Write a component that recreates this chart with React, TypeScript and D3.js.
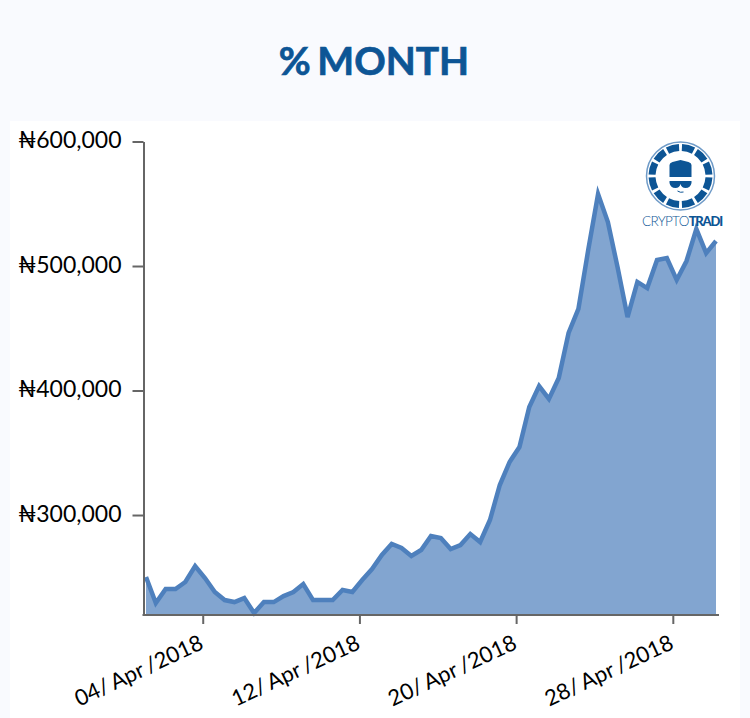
import * as d3 from 'd3';
import { useEffect, useRef } from 'react';

const dates = [
    '2018-04-01T02:30', '2018-04-01T14:32', '2018-04-02T02:35', '2018-04-02T14:37', '2018-04-03T02:40',
    '2018-04-03T14:42', '2018-04-04T02:45', '2018-04-04T14:47', '2018-04-05T02:50', '2018-04-05T14:52',
    '2018-04-06T02:55', '2018-04-06T14:57', '2018-04-07T03:00', '2018-04-07T15:02', '2018-04-08T03:05',
    '2018-04-08T15:07', '2018-04-09T03:10', '2018-04-09T15:12', '2018-04-10T03:15', '2018-04-10T15:17',
    '2018-04-11T03:20', '2018-04-11T15:22', '2018-04-12T03:25', '2018-04-12T15:27', '2018-04-13T03:30',
    '2018-04-13T15:32', '2018-04-14T03:35', '2018-04-14T15:37', '2018-04-15T03:40', '2018-04-15T15:42',
    '2018-04-16T03:45', '2018-04-16T15:47', '2018-04-17T03:50', '2018-04-17T15:52', '2018-04-18T03:55',
    '2018-04-18T15:57', '2018-04-19T04:00', '2018-04-19T16:02', '2018-04-20T04:05', '2018-04-20T16:07',
    '2018-04-21T04:10', '2018-04-21T16:12', '2018-04-22T04:15', '2018-04-22T16:17', '2018-04-23T04:20',
    '2018-04-23T16:22', '2018-04-24T04:25', '2018-04-24T16:27', '2018-04-25T04:30', '2018-04-25T16:32',
    '2018-04-26T04:35', '2018-04-26T16:37', '2018-04-27T04:40', '2018-04-27T16:42', '2018-04-28T04:45',
    '2018-04-28T16:47', '2018-04-29T04:50', '2018-04-29T16:52', '2018-04-30T04:55',
];

const prices = [
    250200, 229300, 240600, 240600, 246200, 259000, 249400, 238200, 231700, 230100,
    233300, 221300, 230100, 230100, 234900, 238200, 244600, 231700, 231700, 231700,
    239800, 238200, 247800, 256600, 267900, 276700, 273500, 267100, 271900, 283100,
    281500, 272700, 275900, 284700, 278300, 296000, 324100, 342600, 354600, 386800,
    403600, 393200, 410000, 446200, 465500, 512900, 557800, 535300, 498400, 459000,
    487200, 482300, 504800, 506400, 488800, 504000, 529700, 510400, 520100,
];

const yTicks = [300000, 400000, 500000, 600000];
const xTicks = ['2018-04-04T00:00', '2018-04-12T00:00', '2018-04-20T00:00', '2018-04-28T00:00'];

const width = 750;
const height = 718;
const font = 'Lato, sans-serif';

export default function App() {
    const ref = useRef<SVGSVGElement>(null);

    useEffect(() => {
        if (!ref.current) return;
        const svg = d3.select(ref.current);
        svg.selectAll('*').remove();

        svg.append('rect').attr('width', width).attr('height', height).attr('fill', '#f9fafe');
        svg.append('rect')
            .attr('x', 10)
            .attr('y', 121)
            .attr('width', 730)
            .attr('height', height - 121)
            .attr('fill', '#fff');

        svg.append('text')
            .attr('x', 374)
            .attr('y', 75)
            .attr('text-anchor', 'middle')
            .attr('font-family', font)
            .attr('font-weight', 700)
            .attr('font-size', 39)
            .attr('stroke', '#0d5595')
            .attr('stroke-width', 0.7)
            .attr('word-spacing', -3)
            .attr('fill', '#0d5595')
            .text('% MONTH');

        const parsed = dates.map((d) => new Date(d));
        const x = d3
            .scaleTime()
            .domain([parsed[0], parsed[parsed.length - 1]])
            .range([146, 716]);
        const y = d3.scaleLinear().domain([219700, 600000]).range([615, 141.5]);

        const points = prices.map((p, i) => ({ date: parsed[i], price: p }));

        const area = d3
            .area<{ date: Date; price: number }>()
            .x((d) => x(d.date))
            .y0(615)
            .y1((d) => y(d.price));
        const line = d3
            .line<{ date: Date; price: number }>()
            .x((d) => x(d.date))
            .y((d) => y(d.price));

        svg.append('path').attr('d', area(points)).attr('fill', '#82a5d0');
        svg.append('path')
            .attr('d', line(points))
            .attr('fill', 'none')
            .attr('stroke', '#4e80bd')
            .attr('stroke-width', 4.5);

        const yAxis = svg
            .append('g')
            .attr('transform', 'translate(143.5,0)')
            .call(
                d3
                    .axisLeft(y)
                    .tickValues(yTicks)
                    .tickSize(11)
                    .tickSizeOuter(0)
                    .tickPadding(11)
                    .tickFormat((d) => '₦' + d3.format(',')(d as number)),
            );
        yAxis
            .selectAll('text')
            .attr('font-family', font)
            .attr('font-size', 23)
            .attr('fill', '#000')
            .attr('dy', '0.28em');

        const xAxis = svg
            .append('g')
            .attr('transform', 'translate(0,615)')
            .call(
                d3
                    .axisBottom(x)
                    .tickValues(xTicks.map((d) => new Date(d)))
                    .tickSize(9)
                    .tickSizeOuter(0)
                    .tickFormat((d) => d3.timeFormat('%d/ %b /%Y')(d as Date)),
            );
        xAxis
            .selectAll('text')
            .attr('font-family', font)
            .attr('font-size', 22)
            .attr('word-spacing', -1.5)
            .attr('fill', '#000')
            .attr('text-anchor', 'end')
            .attr('transform', 'translate(-10,8) rotate(-25)');
        // axis line runs a bit past the data on both sides
        xAxis.select('.domain').attr('d', 'M142.5,0H719');

        svg.selectAll('.domain, .tick line').attr('stroke', '#666').attr('stroke-width', 2);

        // logo
        const logo = svg.append('g').attr('transform', 'translate(680.5,176)');
        logo.append('circle')
            .attr('r', 34)
            .attr('fill', '#fff')
            .attr('stroke', '#6f9bc8')
            .attr('stroke-width', 1.5);
        const arc = d3.arc();
        const segments = 12;
        d3.range(segments).forEach((i) => {
            const a = (i * 2 * Math.PI) / segments;
            logo.append('path')
                .attr(
                    'd',
                    arc({
                        innerRadius: 25,
                        outerRadius: 32,
                        startAngle: a + 0.05,
                        endAngle: a + (2 * Math.PI) / segments - 0.05,
                    }),
                )
                .attr('fill', '#0d5595');
        });
        logo.append('path')
            .attr('d', 'M-11,1V-11Q-11,-13 -8,-14L0,-16L8,-14Q11,-13 11,-11V1Z')
            .attr('fill', '#0d5595');
        logo.append('path')
            .attr('d', 'M-11,5H11V7Q10,12 5,12Q1,12 0,8Q-1,12 -5,12Q-10,12 -11,7Z')
            .attr('fill', '#0d5595');
        logo.append('path')
            .attr('d', 'M-3,15Q0,17 3,16')
            .attr('fill', 'none')
            .attr('stroke', '#0d5595')
            .attr('stroke-width', 1);

        const brand = svg
            .append('text')
            .attr('x', 642)
            .attr('y', 226)
            .attr('font-family', font)
            .attr('font-size', 13.5)
            .attr('fill', '#0d5595');
        brand.append('tspan').attr('font-weight', 300).attr('letter-spacing', -0.7).text('CRYPTO');
        brand.append('tspan').attr('font-weight', 900).attr('font-size', 13).attr('letter-spacing', -1.2).text('TRADI');
    }, []);

    return (
        <svg
            ref={ref}
            width={width}
            height={height}
            style={{ position: 'absolute', left: 0, top: 0, display: 'block' }}
        />
    );
}
